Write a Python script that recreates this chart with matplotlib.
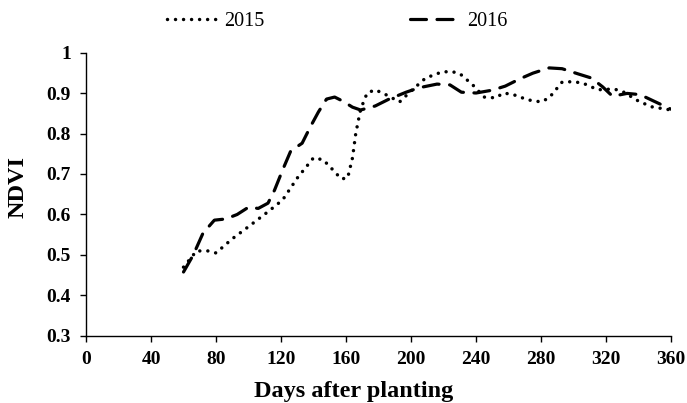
import matplotlib
matplotlib.use('Agg')
import matplotlib.pyplot as plt

# NDVI readings over the season, one list per year
days_2015 = [60, 68, 75, 80, 90, 100, 113, 121, 130, 140, 146, 152, 157, 161,
             164, 166, 169, 173, 178, 185, 193, 200, 209, 219, 225, 230, 238,
             245, 252, 257, 263, 272, 280, 285, 293, 300, 306, 315, 325, 331,
             340, 348, 360]
ndvi_2015 = [0.47, 0.51, 0.51, 0.505, 0.54, 0.57, 0.61, 0.636, 0.69, 0.74,
             0.735, 0.71, 0.688, 0.69, 0.74, 0.80, 0.86, 0.90, 0.908, 0.895,
             0.878, 0.905, 0.937, 0.952, 0.953, 0.948, 0.92, 0.89, 0.888, 0.90,
             0.896, 0.883, 0.878, 0.888, 0.927, 0.928, 0.924, 0.908, 0.91,
             0.902, 0.88, 0.866, 0.858]

days_2016 = [60, 66, 72, 79, 86, 93, 100, 106, 112, 116, 121, 126, 133, 138,
             143, 148, 153, 158, 164, 169, 178, 186, 197, 205, 216, 224, 231,
             240, 250, 258, 267, 275, 285, 293, 303, 311, 318, 324, 333, 341,
             351, 360]
ndvi_2016 = [0.458, 0.50, 0.554, 0.586, 0.589, 0.60, 0.618, 0.615, 0.628,
             0.66, 0.71, 0.757, 0.776, 0.816, 0.853, 0.885, 0.89, 0.88, 0.865,
             0.858, 0.868, 0.884, 0.902, 0.913, 0.922, 0.92, 0.902, 0.90,
             0.907, 0.917, 0.935, 0.949, 0.962, 0.96, 0.947, 0.937, 0.915,
             0.892, 0.899, 0.896, 0.877, 0.86]

x_ticks = list(range(0, 361, 40))
y_ticks = [0.3, 0.4, 0.5, 0.6, 0.7, 0.8, 0.9, 1.0]
y_labels = ['0.3', '0.4', '0.5', '0.6', '0.7', '0.8', '0.9', '1']

plt.rcParams['font.family'] = ['Liberation Serif', 'DejaVu Serif']

fig = plt.figure(figsize=(6.87, 4.03), dpi=100)
ax = fig.add_axes([0.1252, 0.1663, 0.8515, 0.7034])

line15, = ax.plot(days_2015, ndvi_2015, color='black', lw=2.5,
                  linestyle=(0, (0.01, 2.3)), dash_capstyle='round',
                  solid_joinstyle='round', label='2015')
line16, = ax.plot(days_2016, ndvi_2016, color='black', lw=2.3,
                  linestyle=(0, (5.0, 3.3)), dash_capstyle='round',
                  label='2016')

ax.set_xlim(0, 360)
ax.set_ylim(0.3, 1.0)
ax.set_xticks(x_ticks)
ax.set_yticks(y_ticks)
ax.set_yticklabels(y_labels)
for s in ['top', 'right']:
    ax.spines[s].set_visible(False)
for s in ['left', 'bottom']:
    ax.spines[s].set_linewidth(1.0)
ax.tick_params(direction='out', length=4, width=1, labelsize=14, pad=7)
for lab in ax.get_xticklabels() + ax.get_yticklabels():
    lab.set_fontweight('bold')

# axis titles sit centred on the chart area rather than the plot area
ax.set_xlabel('Days after planting', fontsize=17.5, fontweight='bold')
ax.xaxis.label.set_va('baseline')
ax.xaxis.set_label_coords(0.457, -0.215)
ax.set_ylabel('NDVI', fontsize=17.5, fontweight='bold')
ax.yaxis.label.set_va('center')
ax.yaxis.set_label_coords(-0.117, 0.526)

fig.legend(handles=[line15, line16], loc='upper center', ncol=2,
           frameon=False, fontsize=14.5, handlelength=2.5, handletextpad=0.35,
           columnspacing=7.2, bbox_to_anchor=(0.491, 1.015))

fig.savefig('out.png', dpi=100)
